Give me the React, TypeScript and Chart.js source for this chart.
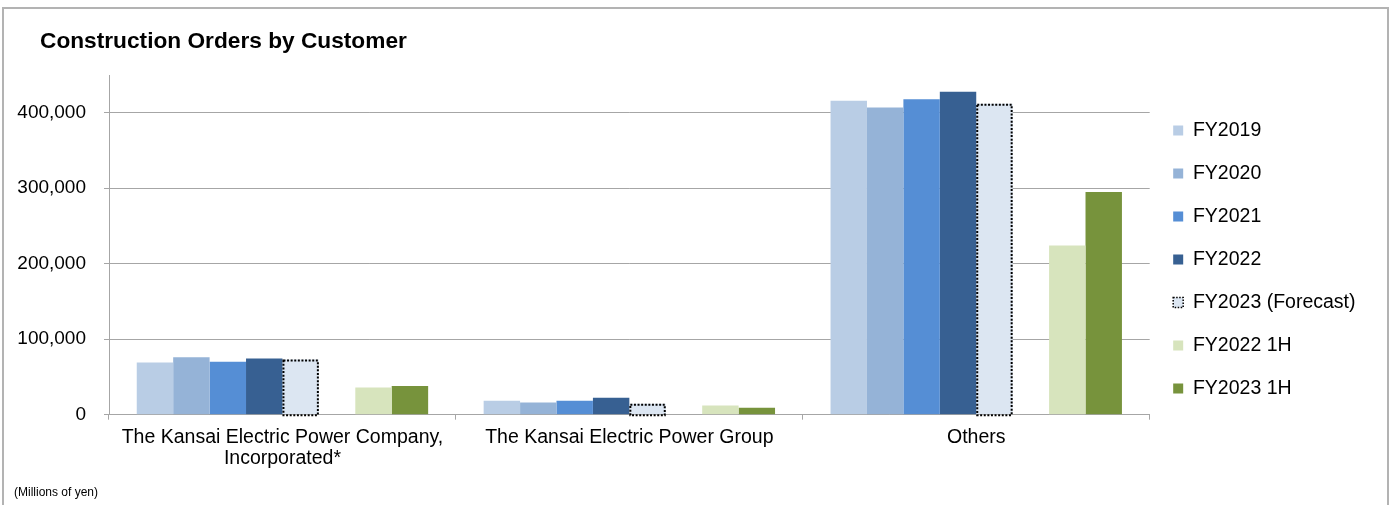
import React, { useEffect, useRef } from 'react';
import { Chart, registerables } from 'chart.js';

Chart.register(...registerables);

const categories: (string | string[])[] = [
  ['The Kansai Electric Power Company,', 'Incorporated*'],
  'The Kansai Electric Power Group',
  'Others',
];
const fy2019 = [69000, 18500, 416000];
const fy2020 = [76000, 16000, 407000];
const fy2021 = [70000, 18500, 418000];
const fy2022 = [74500, 22500, 428000];
const fy2023Forecast = [73000, 14500, 412000];
const spacer = [null, null, null];
const fy2022H1 = [36000, 12300, 224000];
const fy2023H1 = [38000, 9300, 295000];
const yTicks = [0, 100000, 200000, 300000, 400000];
const yMax = 450000;

const FONT = "'Liberation Sans', Arial, sans-serif";
const GRID = '#a6a6a6';

const dottedBorder = {
  id: 'dottedBorder',
  afterDatasetsDraw(chart: any) {
    const meta = chart.getDatasetMeta(4);
    if (!meta || meta.hidden) return;
    const ctx = chart.ctx;
    ctx.save();
    ctx.setLineDash([2, 1.6]);
    ctx.lineWidth = 2;
    ctx.strokeStyle = '#000000';
    meta.data.forEach((bar: any) => {
      const { x, y, base, width } = bar.getProps(['x', 'y', 'base', 'width'], true);
      ctx.strokeRect(x - width / 2 + 1, y + 1, width - 2, base - y);
    });
    ctx.restore();
  },
};

// shift the title block so it starts 26px right of the layout edge
const titleIndent = {
  id: 'titleIndent',
  afterLayout(chart: any) {
    const t = chart.titleBlock;
    if (t) {
      t.left += 26;
      t.right += 26;
    }
  },
};

export default function App() {
  const ref = useRef<HTMLCanvasElement | null>(null);

  useEffect(() => {
    if (!ref.current) return;
    const chart = new Chart(ref.current, {
      type: 'bar',
      data: {
        labels: categories,
        datasets: [
          { label: 'FY2019', data: fy2019, backgroundColor: '#b9cde5' },
          { label: 'FY2020', data: fy2020, backgroundColor: '#95b3d7' },
          { label: 'FY2021', data: fy2021, backgroundColor: '#558ed5' },
          { label: 'FY2022', data: fy2022, backgroundColor: '#376092' },
          { label: 'FY2023 (Forecast)', data: fy2023Forecast, backgroundColor: '#dce6f2' },
          { label: '', data: spacer as any, backgroundColor: 'rgba(0,0,0,0)' },
          { label: 'FY2022 1H', data: fy2022H1, backgroundColor: '#d7e4bd' },
          { label: 'FY2023 1H', data: fy2023H1, backgroundColor: '#77933c' },
        ],
      },
      options: {
        responsive: false,
        animation: false,
        devicePixelRatio: 1,
        datasets: {
          bar: { categoryPercentage: 0.84, barPercentage: 1, borderWidth: 0 },
        },
        layout: { padding: { left: 14, right: 28.5, top: 0, bottom: 0 } },
        scales: {
          x: {
            grid: {
              drawOnChartArea: false,
              drawTicks: true,
              tickLength: 5,
              color: GRID,
              offset: true,
            },
            border: { display: true, color: GRID, width: 1 },
            ticks: {
              color: '#000000',
              padding: 7,
              maxRotation: 0,
              autoSkip: false,
              font: { family: FONT, size: 19.5, lineHeight: 1.08 },
            },
          },
          y: {
            min: 0,
            max: yMax,
            afterBuildTicks: (scale: any) => {
              scale.ticks = yTicks.map((v) => ({ value: v }));
            },
            afterFit: (scale: any) => {
              scale.width = 95;
            },
            grid: { color: GRID, tickLength: 5, drawTicks: true },
            border: { display: true, color: GRID, width: 1 },
            ticks: {
              color: '#000000',
              padding: 18,
              font: { family: FONT, size: 19 },
              callback: (v: any) => Number(v).toLocaleString('en-US'),
            },
          },
        },
        plugins: {
          title: {
            display: true,
            text: 'Construction Orders by Customer',
            align: 'start',
            color: '#000000',
            font: { family: FONT, size: 22.7, weight: 'bold', lineHeight: 1.2 },
            padding: { top: 28.4, bottom: 19.4 },
          },
          subtitle: {
            display: true,
            text: '(Millions of yen)',
            position: 'bottom',
            align: 'start',
            color: '#000000',
            font: { family: FONT, size: 12, lineHeight: 1.2 },
            padding: { top: 9.8, bottom: 5 },
          },
          legend: {
            position: 'right',
            align: 'center',
            fullSize: true,
            title: {
              display: true,
              text: '',
              font: { size: 10, lineHeight: 1 },
              padding: { top: 4, bottom: 0 },
            },
            labels: {
              boxWidth: 10,
              boxHeight: 10,
              padding: 23.5,
              color: '#000000',
              font: { family: FONT, size: 19.5 },
              generateLabels: (c: any) => {
                const items = Chart.defaults.plugins.legend.labels.generateLabels(c);
                return items
                  .filter((it: any) => it.text !== '')
                  .map((it: any) => {
                    if (it.datasetIndex === 4) {
                      return {
                        ...it,
                        strokeStyle: '#000000',
                        lineWidth: 1.5,
                        lineDash: [1.5, 1.5],
                      };
                    }
                    return { ...it, lineWidth: 0 };
                  });
              },
            },
          },
          tooltip: { enabled: false },
        },
      } as any,
      plugins: [dottedBorder, titleIndent],
    });
    return () => chart.destroy();
  }, []);

  return (
    <div
      style={{
        position: 'absolute',
        left: 0,
        top: 0,
        width: 1394,
        height: 505,
        overflow: 'hidden',
        background: '#ffffff',
      }}
    >
      <div
        style={{
          position: 'absolute',
          left: 2,
          top: 7,
          width: 1387,
          height: 520,
          border: '2px solid #b3b3b3',
          boxSizing: 'border-box',
        }}
      />
      <canvas
        ref={ref}
        width={1394}
        height={505}
        style={{ position: 'absolute', left: 0, top: 0, display: 'block' }}
      />
    </div>
  );
}
